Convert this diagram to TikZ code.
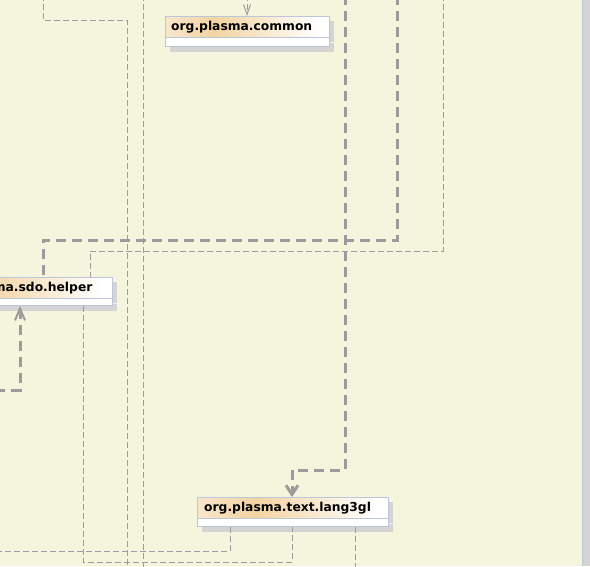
\documentclass[tikz,border=0pt]{standalone}
\usepackage{fontspec}
\setmainfont{DejaVu Sans}
\usetikzlibrary{positioning, arrows.meta, shadows}

\definecolor{paper}{HTML}{F5F4DC}
\definecolor{linkgray}{HTML}{9C9C9C}
\definecolor{boxline}{HTML}{BCC6DA}
\definecolor{boxshadow}{HTML}{D4D4D4}
\definecolor{headlight}{HTML}{F8E6CC}
\definecolor{headorange}{HTML}{F3D3A2}
\pgfdeclarehorizontalshading{pkghead}{100bp}{color(0bp)=(headlight); color(25bp)=(headlight); color(40bp)=(headorange); color(72bp)=(white); color(100bp)=(white)}

\begin{document}
\begin{tikzpicture}[x=1pt, y=-1pt]


\tikzset{pkg/.style={shape=rectangle, draw=boxline, shading=pkghead, anchor=north west, inner xsep=6pt, inner ysep=0pt, minimum height=21pt, align=left, font=\fontsize{12.3}{14}\selectfont\bfseries, general shadow={fill=boxshadow, shadow xshift=5pt, shadow yshift=-5pt}}}
\tikzset{pkgfoot/.style={shape=rectangle, draw=boxline, fill=white, inner sep=0pt, general shadow={fill=boxshadow, shadow xshift=5pt, shadow yshift=-5pt}}}
\tikzset{thinlink/.style={draw=linkgray, line width=1pt, dash pattern=on 6pt off 3pt}}
\tikzset{thicklink/.style={draw=linkgray, line width=3pt, dash pattern=on 10pt off 6pt}}
\tikzset{bigtip/.style={-{Straight Barb[length=9pt, width=12pt, line width=3pt]}}}
\tikzset{midtip/.style={-{Straight Barb[length=12pt, width=10pt, line width=2pt]}}}
\tikzset{smalltip/.style={-{Straight Barb[length=10pt, width=7pt, line width=1pt]}}}
\fill[paper] (0,0) rectangle (590,566);
\useasboundingbox (0,0) rectangle (590,566);
\clip (0,0) rectangle (590,566);
\fill[boxshadow] (583,0) rectangle (590,566);
\draw[boxline] (582.5,0) -- (582.5,566);
\node[pkg, text width=152pt] (common) at (165,16) {org.plasma.common};
\node[pkgfoot, minimum width=164pt, minimum height=9pt, below=0pt of common] (commonfoot) {};
\node[pkg, text width=170pt] (helper) at (-70,277) {org.plasma.sdo.helper};
\node[pkgfoot, minimum width=182pt, minimum height=7pt, below=0pt of helper] (helperfoot) {};
\node[pkg, text width=177pt, inner xsep=7pt] (lang3gl) at (197,497) {org.plasma.text.lang3gl};
\node[pkgfoot, minimum width=191pt, minimum height=8pt, below=0pt of lang3gl] (lang3glfoot) {};
\coordinate (eTop) at (43,-5);
\coordinate (eEnd) at (127,571);
\coordinate (fTop) at (143,-5);
\coordinate (fEnd) at (143,571);
\coordinate (aTop) at (443,-5);
\coordinate (hTop) at (397,-5);
\coordinate (gTop) at (345,-5);
\coordinate (kTop) at (247,-5);
\coordinate (iLeft) at (-5,390);
\coordinate (cLeft) at (-5,551);
\coordinate (dEnd) at (355,571);
\draw[thinlink] (eTop) -- ++(0,25) -| (eEnd);
\draw[thinlink] (fTop) -- (fEnd);
\draw[thinlink] (aTop) |- (90,251) -- (90,0 |- helper.north);
\draw[thinlink, smalltip] (kTop) -- (247,0 |- common.north);
\draw[thicklink] (hTop) |- (43,240) -- (43,0 |- helper.north);
\draw[thicklink, bigtip] (gTop) |- (292,470) -- (292,0 |- lang3gl.north);
\draw[thicklink, midtip] (iLeft) -| (20,0 |- helperfoot.south);
\draw[thinlink] (83,0 |- helperfoot.south) |- (292,562) -- (292,0 |- lang3glfoot.south);
\draw[thinlink] (230,0 |- lang3glfoot.south) |- (cLeft);
\draw[thinlink] (355,0 |- lang3glfoot.south) -- (dEnd);

\end{tikzpicture}
\end{document}
